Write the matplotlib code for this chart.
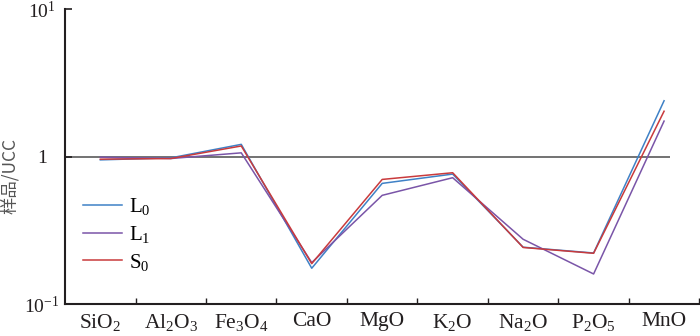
import matplotlib.pyplot as plt
import numpy as np

plt.rcParams['font.family'] = ['Liberation Serif', 'DejaVu Serif']
plt.rcParams['mathtext.fontset'] = 'custom'
plt.rcParams['mathtext.rm'] = 'Liberation Serif'
plt.rcParams['mathtext.default'] = 'regular'

oxides = ['SiO$_2$', 'Al$_2$O$_3$', 'Fe$_3$O$_4$', 'CaO', 'MgO',
          'K$_2$O', 'Na$_2$O', 'P$_2$O$_5$', 'MnO']
L0 = [0.95, 0.98, 1.21, 0.175, 0.658, 0.761, 0.243, 0.222, 2.39]
L1 = [0.99, 0.97, 1.06, 0.191, 0.546, 0.719, 0.275, 0.160, 1.74]
S0 = [0.96, 0.97, 1.18, 0.188, 0.700, 0.777, 0.242, 0.221, 2.03]

series = [('L$_0$', L0, '#3f81c6'),
          ('L$_1$', L1, '#7a55a8'),
          ('S$_0$', S0, '#c93a3c')]

ink = '#231f20'

fig = plt.figure(figsize=(7, 3.36), dpi=100)
ax = fig.add_axes([0.093, 0.095, 0.906, 0.878])

x = np.arange(len(oxides))
ax.hlines(1, -0.5, 8.08, color='#5a5a5a', lw=1.2, zorder=1)
for name, vals, col in series:
    ax.plot(x, vals, color=col, lw=1.1, label=name, zorder=2)

ax.set_yscale('log')
ax.set_ylim(0.1, 10)
ax.set_xlim(-0.5, 8.5)

ax.set_yticks([0.1, 1, 10])
ax.set_yticklabels(['$10^{-1}$', '1', '$10^{1}$'])
ax.yaxis.set_minor_locator(plt.NullLocator())
ax.tick_params(axis='y', direction='in', length=5, width=1.2, color=ink,
               labelsize=14, labelcolor=ink, pad=16.5)
for lab in ax.get_yticklabels():
    lab.set_ha('center')

ax.set_xticks(x)
ax.set_xticklabels(oxides)
ax.set_xticks(np.arange(0.5, 9, 1), minor=True)
ax.tick_params(axis='x', which='major', length=0, labelsize=15.5,
               labelcolor=ink, pad=6)
ax.tick_params(axis='x', which='minor', direction='in', length=4,
               width=1.0, color=ink)

for side in ['top', 'right']:
    ax.spines[side].set_visible(False)
for side in ['left', 'bottom']:
    ax.spines[side].set_color(ink)
    ax.spines[side].set_linewidth(1.5)

fig.text(0.014, 0.476, '样品/UCC', family=['Noto Sans CJK SC', 'DejaVu Sans'],
         fontsize=12.5, color='#555555', rotation=90, ha='center', va='center')

ax.legend(loc='upper left', bbox_to_anchor=(0.028, 0.365), frameon=False,
          fontsize=15, handlelength=1.9, handletextpad=0.3,
          labelspacing=0.32, borderpad=0, borderaxespad=0)

fig.savefig('out.png', dpi=100)
